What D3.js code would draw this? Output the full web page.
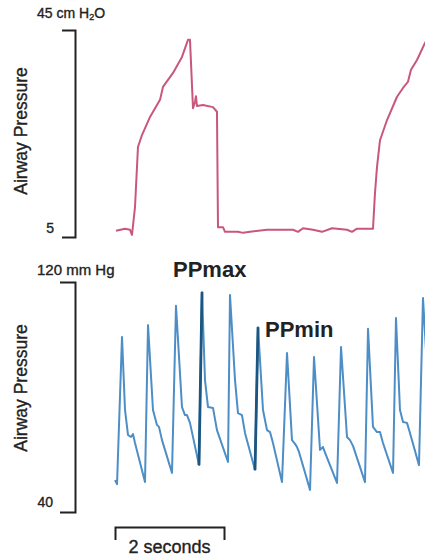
<!DOCTYPE html>
<html>
<head>
<meta charset="utf-8">
<script src="https://cdn.jsdelivr.net/npm/d3@7"></script>
<style>
  body { margin: 0; background: #fff; }
  svg { display: block; font-family: "Liberation Sans", Arial, Helvetica, sans-serif; }
  .lbl { fill: #222; stroke: #222; stroke-width: 0.35px; }
</style>
</head>
<body>
<div id="chart"></div>
<script>
// airway pressure trace (cm H2O) - time in seconds
var pawTime = [0, 0.167, 0.259, 0.296, 0.352, 0.407, 0.481, 0.63, 0.815, 0.87, 1.056, 1.222, 1.333, 1.37,
  1.426, 1.463, 1.481, 1.5, 1.611, 1.796, 1.87, 1.889, 1.981, 2.019, 2.259, 2.352, 2.481, 2.796,
  3.278, 3.37, 3.463, 3.648, 3.815, 4.0, 4.278, 4.37, 4.463, 4.759, 4.796, 4.833, 4.889, 5.019,
  5.204, 5.315, 5.407, 5.463, 5.574, 5.722, 5.815];
var pawValue = [6.2, 6.6, 6.4, 5.4, 10.8, 22.4, 24.7, 28.2, 31.5, 34.0, 36.7, 39.8, 43.1, 43.1,
  29.9, 31.1, 32.2, 30.3, 30.5, 30.1, 29.2, 6.9, 6.9, 6.0, 6.0, 5.8, 6.0, 6.4,
  6.4, 6.0, 6.7, 6.4, 6.0, 6.7, 6.4, 6.0, 6.6, 6.6, 13.5, 18.5, 23.7, 27.6,
  32.1, 33.8, 35.0, 37.3, 39.2, 42.5, 44.0];

// arterial pressure trace (mm Hg)
var artTime = [-0.019, 0.019, 0.111, 0.167, 0.222, 0.278, 0.315, 0.352, 0.537,
  0.593, 0.685, 0.759, 0.796, 0.852, 1.037,
  1.111, 1.222, 1.278, 1.315, 1.37, 1.537,
  1.593, 1.648, 1.704, 1.796, 1.87, 2.074,
  2.111, 2.204, 2.259, 2.333, 2.389, 2.574,
  2.63, 2.722, 2.796, 2.852, 2.907, 3.074,
  3.167, 3.259, 3.315, 3.352, 3.389, 3.593,
  3.667, 3.778, 3.833, 3.889, 4.093,
  4.167, 4.278, 4.333, 4.389, 4.611,
  4.667, 4.759, 4.833, 4.889, 4.944, 5.13,
  5.185, 5.259, 5.315, 5.389, 5.444, 5.611,
  5.685, 5.778, 5.852];
var artValue = [51.1, 49.7, 100.9, 75.5, 66.8, 66.1, 67.1, 64.0, 50.4,
  105.0, 75.5, 70.3, 69.6, 65.0, 53.6,
  111.7, 76.5, 73.7, 73.7, 71.0, 56.3,
  116.5, 85.9, 76.5, 76.2, 68.5, 57.4,
  115.5, 85.9, 74.4, 73.7, 67.5, 54.6,
  104.3, 75.5, 68.5, 67.8, 64.0, 50.4,
  95.3, 65.0, 63.7, 62.6, 60.9, 47.7,
  93.9, 61.6, 62.6, 59.8, 50.1,
  97.4, 66.1, 65.0, 63.0, 50.4,
  103.7, 69.6, 67.8, 67.8, 64.0, 53.6,
  107.5, 75.5, 71.3, 71.0, 67.5, 56.3,
  114.4, 84.2, 75.5];

// upstrokes of the beats marked PPmax and PPmin (point index ranges)
var highlightBeats = [[20, 21], [32, 33]];
var beatLabels = ["PPmax", "PPmin"];

var pawRange = [5, 45];
var artRange = [40, 120];
var timeBar = [0, 2];

var width = 425, height = 557;
var pink = "#c9577d", blue = "#4d8ec6", darkBlue = "#1a5680", ink = "#222";

var svg = d3.select("#chart").append("svg")
    .attr("width", width)
    .attr("height", height);

var x = d3.scaleLinear().domain([0, 2]).range([116, 224]);
var yTop = d3.scaleLinear().domain(pawRange).range([237, 30]);
var yBot = d3.scaleLinear().domain(artRange).range([512, 282]);

function inkDomain(g) {
  g.select(".domain").attr("stroke", ink).attr("stroke-width", 2);
}

// scale brackets
svg.append("g")
    .attr("transform", "translate(75,0)")
    .call(d3.axisLeft(yTop).tickValues([]).tickSizeOuter(13))
    .call(inkDomain);

svg.append("g")
    .attr("transform", "translate(75,0)")
    .call(d3.axisLeft(yBot).tickValues([]).tickSizeOuter(15))
    .call(inkDomain);

var xBar = d3.scaleLinear().domain(timeBar).range([x(timeBar[0]) - 1, x(timeBar[1])]);
svg.append("g")
    .attr("transform", "translate(0,527)")
    .call(d3.axisBottom(xBar).tickValues([]).tickSizeOuter(13))
    .call(inkDomain);

// labels
var topLbl = svg.append("text")
    .attr("class", "lbl")
    .attr("x", 37).attr("y", 18)
    .attr("font-size", 14);
topLbl.append("tspan").text(pawRange[1] + " cm H");
topLbl.append("tspan").attr("font-size", 9).attr("dy", 2).text("2");
topLbl.append("tspan").attr("dy", -2).text("O");

svg.append("text")
    .attr("class", "lbl")
    .attr("x", 54).attr("y", yTop(pawRange[0]) - 4)
    .attr("text-anchor", "end")
    .attr("font-size", 14)
    .text(pawRange[0]);

svg.append("text")
    .attr("class", "lbl")
    .attr("x", 37).attr("y", 275)
    .attr("font-size", 15)
    .text(artRange[1] + " mm Hg");

svg.append("text")
    .attr("class", "lbl")
    .attr("x", 53).attr("y", yBot(artRange[0]) - 5)
    .attr("text-anchor", "end")
    .attr("font-size", 14)
    .text(artRange[0]);

[131, 388].forEach(function(cy) {
  svg.append("text")
      .attr("class", "lbl")
      .attr("transform", "translate(27," + cy + ") rotate(-90)")
      .attr("text-anchor", "middle")
      .attr("font-size", 17.5)
      .text("Airway Pressure");
});

svg.append("text")
    .attr("class", "lbl")
    .attr("x", (xBar.range()[0] + xBar.range()[1]) / 2)
    .attr("y", 553)
    .attr("text-anchor", "middle")
    .attr("font-size", 18)
    .text("2 seconds");

// traces
var pawData = pawTime.map(function(t, i) { return [t, pawValue[i]]; });
var artData = artTime.map(function(t, i) { return [t, artValue[i]]; });

var linePaw = d3.line().x(function(d) { return x(d[0]); }).y(function(d) { return yTop(d[1]); });
var lineArt = d3.line().x(function(d) { return x(d[0]); }).y(function(d) { return yBot(d[1]); });

svg.append("path")
    .datum(pawData)
    .attr("d", linePaw)
    .attr("fill", "none")
    .attr("stroke", pink)
    .attr("stroke-width", 2)
    .attr("stroke-linejoin", "round");

svg.append("path")
    .datum(artData)
    .attr("d", lineArt)
    .attr("fill", "none")
    .attr("stroke", blue)
    .attr("stroke-width", 2)
    .attr("stroke-linejoin", "round");

highlightBeats.forEach(function(r, k) {
  var seg = artData.slice(r[0], r[1] + 1);
  svg.append("path")
      .datum(seg)
      .attr("d", lineArt)
      .attr("fill", "none")
      .attr("stroke", darkBlue)
      .attr("stroke-width", 2.8)
      .attr("stroke-linejoin", "round");
  var peak = seg[seg.length - 1];
  svg.append("text")
      .attr("x", k === 0 ? x(peak[0]) - 29 : x(peak[0]) + 7)
      .attr("y", k === 0 ? yBot(peak[1]) - 15 : yBot(peak[1]) + 10)
      .attr("font-size", 22).attr("font-weight", "bold").attr("fill", ink)
      .text(beatLabels[k]);
});
</script>
</body>
</html>
